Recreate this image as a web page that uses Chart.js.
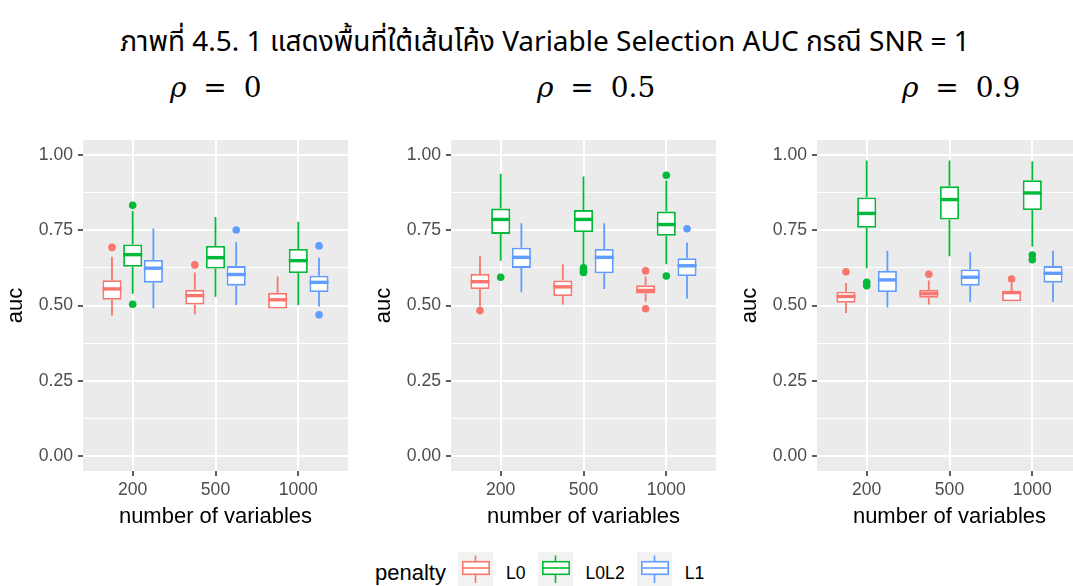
<!DOCTYPE html>
<html>
<head>
<meta charset="utf-8">
<script src="https://cdn.jsdelivr.net/npm/chart.js@4.4.1/dist/chart.umd.min.js"></script>
<style>
  html, body { margin: 0; padding: 0; background: #fff; }
  body { width: 1073px; height: 586px; overflow: hidden; position: relative; font-family: "Liberation Sans", Arial, sans-serif; }
  #title { position: absolute; left: 0; width: 1090px; top: 21px; text-align: center; font-family: "Noto Sans Thai", "Noto Sans", sans-serif; font-size: 28px; color: #000; white-space: nowrap; }
  .rho { position: absolute; top: 71px; font-family: "DejaVu Serif", serif; font-size: 28px; word-spacing: 8px; white-space: nowrap; color: #000; }
  .rho i { font-style: italic; }
  canvas { position: absolute; top: 120px; }
  #legend { position: absolute; left: 375px; top: 552px; display: flex; align-items: flex-start; }
  #legend .lt { font-size: 22px; line-height: 22px; padding-top: 10px; margin-right: 12px; }
  #legend .ll { font-size: 17.6px; line-height: 17.6px; padding-top: 13px; margin-right: 12px; }
  #legend svg { display: block; background: #F2F2F2; margin-right: 13px; }
</style>
</head>
<body>
<div id="title">ภาพที่ 4.5. 1 แสดงพื้นที่ใต้เส้นโค้ง Variable Selection AUC กรณี SNR = 1</div>
<div class="rho" id="rho0" style="left:170px"></div>
<div class="rho" id="rho1" style="left:537px"></div>
<div class="rho" id="rho2" style="left:902px"></div>
<canvas id="c0" width="352" height="415" style="left:0px"></canvas>
<canvas id="c1" width="352" height="415" style="left:368px"></canvas>
<canvas id="c2" width="352" height="415" style="left:734px"></canvas>
<div id="legend"></div>
<script>
const sizes = ['200', '500', '1000'];
const penalties = ['L0', 'L0L2', 'L1'];
const penaltyColors = ['#F8766D', '#00BA38', '#619CFF'];
const rhoValues = ['0', '0.5', '0.9'];
const yMajor = [0, 0.25, 0.5, 0.75, 1];
const yMinor = [0.125, 0.375, 0.625, 0.875];

// box stats for 200 / 500 / 1000 variables: [lower whisker, q1, median, q3, upper whisker]
const rho0_L0   = [[0.467, 0.519, 0.555, 0.584, 0.662], [0.471, 0.503, 0.533, 0.552, 0.610], [0.489, 0.490, 0.519, 0.542, 0.596]];
const rho0_L0L2 = [[0.539, 0.629, 0.669, 0.703, 0.813], [0.529, 0.623, 0.659, 0.698, 0.794], [0.502, 0.608, 0.649, 0.688, 0.778]];
const rho0_L1   = [[0.491, 0.576, 0.624, 0.651, 0.756], [0.502, 0.566, 0.603, 0.631, 0.710], [0.497, 0.545, 0.577, 0.599, 0.659]];
const rho0_L0_out   = [[0.693], [0.635], []];
const rho0_L0L2_out = [[0.833, 0.504], [], []];
const rho0_L1_out   = [[], [0.751], [0.698, 0.469]];

const rho05_L0   = [[0.497, 0.555, 0.579, 0.605, 0.664], [0.503, 0.531, 0.562, 0.583, 0.637], [0.513, 0.540, 0.550, 0.567, 0.596]];
const rho05_L0L2 = [[0.649, 0.738, 0.786, 0.822, 0.938], [0.629, 0.744, 0.786, 0.817, 0.929], [0.637, 0.732, 0.769, 0.812, 0.915]];
const rho05_L1   = [[0.544, 0.625, 0.660, 0.692, 0.773], [0.555, 0.607, 0.660, 0.688, 0.773], [0.523, 0.598, 0.632, 0.657, 0.709]];
const rho05_L0_out   = [[0.483], [], [0.615, 0.489]];
const rho05_L0L2_out = [[0.594], [0.625, 0.615, 0.610], [0.933, 0.598]];
const rho05_L1_out   = [[], [], [0.755]];

const rho09_L0   = [[0.475, 0.509, 0.530, 0.546, 0.575], [0.503, 0.526, 0.539, 0.552, 0.583], [0.513, 0.514, 0.543, 0.546, 0.575]];
const rho09_L0L2 = [[0.624, 0.758, 0.806, 0.859, 0.982], [0.664, 0.786, 0.852, 0.896, 0.982], [0.695, 0.817, 0.874, 0.916, 0.979]];
const rho09_L1   = [[0.493, 0.545, 0.585, 0.615, 0.682], [0.512, 0.566, 0.594, 0.620, 0.677], [0.512, 0.576, 0.607, 0.631, 0.682]];
const rho09_L0_out   = [[0.612], [0.604], [0.588]];
const rho09_L0L2_out = [[0.577, 0.566], [], [0.668, 0.652]];
const rho09_L1_out   = [[], [], []];

const panels = [
  { boxes: [rho0_L0, rho0_L0L2, rho0_L1], outliers: [rho0_L0_out, rho0_L0L2_out, rho0_L1_out] },
  { boxes: [rho05_L0, rho05_L0L2, rho05_L1], outliers: [rho05_L0_out, rho05_L0L2_out, rho05_L1_out] },
  { boxes: [rho09_L0, rho09_L0L2, rho09_L1], outliers: [rho09_L0_out, rho09_L0L2_out, rho09_L1_out] }
];

const FONT = '"Liberation Sans", Arial, sans-serif';
const LINE = 1.8;
const DODGE = 0.75 / penalties.length; // group width split across penalties
const yTicks = [...yMajor, ...yMinor].sort((a, b) => a - b);
const isMajor = v => yMajor.includes(v);

// grey panel background like ggplot's theme_gray
const panelBg = {
  id: 'panelBg',
  beforeDraw(chart) {
    const { ctx, chartArea: a } = chart;
    ctx.save();
    ctx.fillStyle = '#EBEBEB';
    ctx.fillRect(a.left, a.top, a.right - a.left, a.bottom - a.top);
    ctx.restore();
  }
};

// whiskers + median line on top of each floating bar
const whiskers = {
  id: 'whiskers',
  afterDatasetsDraw(chart) {
    const { ctx } = chart;
    const y = chart.scales.y;
    chart.data.datasets.forEach((ds, di) => {
      if (!ds.stats) return;
      const meta = chart.getDatasetMeta(di);
      meta.data.forEach((bar, i) => {
        const [lo, q1, med, q3, hi] = ds.stats[i];
        ctx.save();
        ctx.strokeStyle = ds.borderColor;
        ctx.lineWidth = LINE;
        ctx.beginPath();
        ctx.moveTo(bar.x, y.getPixelForValue(q3));
        ctx.lineTo(bar.x, y.getPixelForValue(hi));
        ctx.moveTo(bar.x, y.getPixelForValue(q1));
        ctx.lineTo(bar.x, y.getPixelForValue(lo));
        ctx.stroke();
        const ym = y.getPixelForValue(med);
        ctx.lineWidth = LINE * 1.9;
        ctx.beginPath();
        ctx.moveTo(bar.x - bar.width / 2, ym);
        ctx.lineTo(bar.x + bar.width / 2, ym);
        ctx.stroke();
        ctx.restore();
      });
    });
  }
};

function buildPanel(canvasId, panel) {
  const datasets = [];
  penalties.forEach((p, pi) => {
    const box = panel.boxes[pi];
    datasets.push({
      type: 'bar',
      label: p,
      data: sizes.map((s, i) => ({ x: i + 1, y: [box[i][1], box[i][3]] })),
      stats: box,
      backgroundColor: '#FFFFFF',
      borderColor: penaltyColors[pi],
      borderWidth: LINE,
      borderSkipped: false,
      categoryPercentage: 0.75,
      barPercentage: 0.92
    });
  });
  penalties.forEach((p, pi) => {
    const pts = [];
    panel.outliers[pi].forEach((vals, i) => {
      vals.forEach(v => pts.push({ x: i + 1 + (pi - 1) * DODGE, y: v }));
    });
    datasets.push({
      type: 'scatter',
      label: p + ' outliers',
      data: pts,
      backgroundColor: penaltyColors[pi],
      borderWidth: 0,
      pointRadius: 3.8
    });
  });

  return new Chart(document.getElementById(canvasId), {
    type: 'bar',
    data: { datasets },
    options: {
      responsive: false,
      animation: false,
      events: [],
      layout: { padding: { top: 20, right: 2, left: 0, bottom: 0 } },
      plugins: { legend: { display: false }, tooltip: { enabled: false } },
      scales: {
        x: {
          type: 'linear',
          min: 0.4,
          max: 3.6,
          offset: false,
          afterBuildTicks: s => { s.ticks = sizes.map((_, i) => ({ value: i + 1 })); },
          afterFit: s => { s.height = 64; },
          ticks: {
            callback: v => sizes[v - 1],
            color: '#4D4D4D',
            font: { family: FONT, size: 17.6 },
            padding: 4,
            maxRotation: 0,
            autoSkip: false
          },
          grid: { offset: false, color: '#FFFFFF', lineWidth: 2, tickColor: '#333333', tickLength: 5, tickWidth: 1.6 },
          border: { display: false },
          title: { display: true, text: 'number of variables', color: '#000', font: { family: FONT, size: 22 }, padding: { top: 0, bottom: 4.4 } }
        },
        y: {
          min: -0.05,
          max: 1.05,
          afterBuildTicks: s => { s.ticks = yTicks.map(v => ({ value: v })); },
          afterFit: s => { s.width = 83; },
          ticks: {
            callback: v => isMajor(v) ? v.toFixed(2) : '',
            color: '#4D4D4D',
            font: { family: FONT, size: 17.6 },
            padding: 5,
            autoSkip: false
          },
          grid: {
            color: '#FFFFFF',
            lineWidth: c => isMajor(c.tick.value) ? 2 : 1.1,
            tickColor: c => isMajor(c.tick.value) ? '#333333' : 'rgba(0,0,0,0)',
            tickLength: 5,
            tickWidth: 1.6
          },
          border: { display: false },
          title: { display: true, text: 'auc', color: '#000', font: { family: FONT, size: 22 }, padding: { top: 2.5, bottom: 0 } }
        }
      }
    },
    plugins: [panelBg, whiskers]
  });
}

panels.forEach((p, i) => buildPanel('c' + i, p));

rhoValues.forEach((v, i) => {
  document.getElementById('rho' + i).innerHTML = '<i>ρ</i> = ' + v;
});

// legend: box-plot glyph keys
function keySvg(color) {
  return '<svg width="35" height="35">' +
    '<line x1="17.5" y1="3.5" x2="17.5" y2="9.7" stroke="' + color + '" stroke-width="1.6"/>' +
    '<line x1="17.5" y1="22.3" x2="17.5" y2="31" stroke="' + color + '" stroke-width="1.6"/>' +
    '<rect x="4.8" y="9.7" width="26.4" height="12.6" fill="#fff" stroke="' + color + '" stroke-width="1.6"/>' +
    '<line x1="4.8" y1="16" x2="31.2" y2="16" stroke="' + color + '" stroke-width="1.6"/>' +
    '</svg>';
}
const legend = document.getElementById('legend');
let html = '<span class="lt">penalty</span>';
penalties.forEach((p, i) => {
  html += keySvg(penaltyColors[i]) + '<span class="ll">' + p + '</span>';
});
legend.innerHTML = html;
</script>
</body>
</html>
